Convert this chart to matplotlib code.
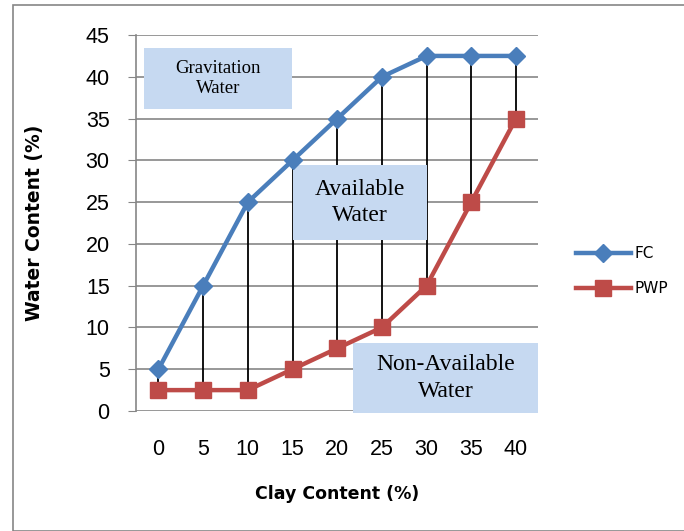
import numpy as np
import matplotlib.pyplot as plt
from matplotlib.patches import Rectangle

# Water content vs clay content
clay = [0, 5, 10, 15, 20, 25, 30, 35, 40]
fc = [5, 15, 25, 30, 35, 40, 42.5, 42.5, 42.5]
pwp = [2.5, 2.5, 2.5, 5, 7.5, 10, 15, 25, 35]

blue = '#4A7EBB'
red = '#BE4B48'
box_color = '#C6D9F1'

fig = plt.figure(figsize=(6.84, 5.31), dpi=100)
ax = fig.add_axes([0.199, 0.226, 0.588, 0.708])

idx = np.arange(len(clay))

# drop lines between the two curves
ax.vlines(idx, pwp, fc, colors='black', lw=1.3, zorder=2)

ax.plot(idx, fc, color=blue, lw=3.2, marker='D', markersize=9, label='FC', zorder=5)
ax.plot(idx, pwp, color=red, lw=3.2, marker='s', markersize=11, label='PWP', zorder=5)

# labelled regions
boxes = [
    (-0.32, 36.1, 3.31, 7.4, 'Gravitation\nWater', 13.5, 1.2),
    (3.01, 20.5, 3.0, 8.9, 'Available\nWater', 17, 1.32),
    (4.36, -0.25, 4.14, 8.4, 'Non-Available\nWater', 17, 1.32),
]
for x0, y0, w, h, txt, fs, ls in boxes:
    ax.add_patch(Rectangle((x0, y0), w, h, facecolor=box_color, edgecolor='none',
                           zorder=4, clip_on=False))
    ax.text(x0 + w / 2, y0 + h / 2, txt, ha='center', va='center', fontsize=fs,
            family='Liberation Serif', zorder=4.5, linespacing=ls)

ax.set_xlim(-0.5, len(clay) - 0.5)
ax.set_ylim(0, 45)
ax.set_yticks(np.arange(0, 50, 5))
ax.set_xticks(idx)
ax.set_xticklabels([str(c) for c in clay])
ax.tick_params(labelsize=15.5, colors='black')
ax.tick_params(axis='x', length=0, pad=20)
ax.tick_params(axis='y', length=6, direction='out', color='#868686', pad=13)
for lab in ax.get_xticklabels() + ax.get_yticklabels():
    lab.set_family('Liberation Sans')

ax.grid(axis='y', color='#868686', lw=1.2, zorder=0)
ax.set_axisbelow(True)
for s in ['top', 'right', 'bottom']:
    ax.spines[s].set_visible(False)
ax.spines['left'].set_color('#868686')
ax.spines['left'].set_linewidth(1.2)

ax.set_xlabel('Clay Content (%)', fontsize=12.5, fontweight='bold', labelpad=18)
ax.set_ylabel('Water Content (%)', fontsize=13.5, fontweight='bold', labelpad=30)

ax.legend(loc='center left', bbox_to_anchor=(0.822, 0.489), bbox_transform=fig.transFigure,
          frameon=False, fontsize=11, handlelength=3.6, labelspacing=1.3,
          handletextpad=0.2)

# outer frame
fig.add_artist(Rectangle((0.019, 0.0), 0.985, 0.99, transform=fig.transFigure,
                         facecolor='none', edgecolor='#868686', lw=1.2))

fig.savefig('out.png', dpi=100)
